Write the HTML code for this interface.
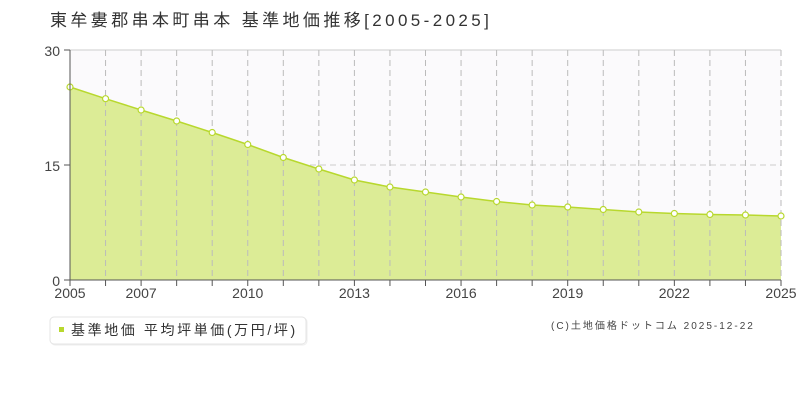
<!DOCTYPE html>
<html><head><meta charset="utf-8"><style>
body{margin:0;background:#fff;width:800px;height:400px;overflow:hidden;font-family:"Liberation Sans","Noto Sans CJK JP",sans-serif;}
</style></head><body>
<svg width="800" height="400" xmlns="http://www.w3.org/2000/svg" font-family="Liberation Sans, Noto Sans CJK JP, sans-serif">
<text x="50" y="26" font-size="17" fill="#333" letter-spacing="3.4">東牟婁郡串本町串本 基準地価推移[2005-2025]</text>
<rect x="70" y="50" width="711" height="230" fill="#fbfafc"/>
<line x1="70" y1="50" x2="781" y2="50" stroke="#ddd" stroke-width="1.5"/>
<line x1="70" y1="165" x2="781" y2="165" stroke="#ccc" stroke-dasharray="6,4"/>
<polygon fill="#dcec96" points="70,280 70,87 105.55,98.7 141.1,110 176.65,121 212.2,132.5 247.75,144.5 283.3,157.5 318.85,169 354.4,180 389.95,187 425.5,192 461.05,197 496.6,201.5 532.15,205 567.7,207 603.25,209.5 638.8,212 674.35,213.5 709.9,214.5 745.45,215 781,216 781,280"/>
<g stroke="#bbb" stroke-dasharray="6,4">
<line x1="105.55" y1="50" x2="105.55" y2="280"/><line x1="141.1" y1="50" x2="141.1" y2="280"/><line x1="176.65" y1="50" x2="176.65" y2="280"/><line x1="212.2" y1="50" x2="212.2" y2="280"/><line x1="247.75" y1="50" x2="247.75" y2="280"/><line x1="283.3" y1="50" x2="283.3" y2="280"/><line x1="318.85" y1="50" x2="318.85" y2="280"/><line x1="354.4" y1="50" x2="354.4" y2="280"/><line x1="389.95" y1="50" x2="389.95" y2="280"/><line x1="425.5" y1="50" x2="425.5" y2="280"/><line x1="461.05" y1="50" x2="461.05" y2="280"/><line x1="496.6" y1="50" x2="496.6" y2="280"/><line x1="532.15" y1="50" x2="532.15" y2="280"/><line x1="567.7" y1="50" x2="567.7" y2="280"/><line x1="603.25" y1="50" x2="603.25" y2="280"/><line x1="638.8" y1="50" x2="638.8" y2="280"/><line x1="674.35" y1="50" x2="674.35" y2="280"/><line x1="709.9" y1="50" x2="709.9" y2="280"/><line x1="745.45" y1="50" x2="745.45" y2="280"/><line x1="781" y1="50" x2="781" y2="280"/>
</g>
<polyline fill="none" stroke="#b8d82e" stroke-width="1.5" points="70,87 105.55,98.7 141.1,110 176.65,121 212.2,132.5 247.75,144.5 283.3,157.5 318.85,169 354.4,180 389.95,187 425.5,192 461.05,197 496.6,201.5 532.15,205 567.7,207 603.25,209.5 638.8,212 674.35,213.5 709.9,214.5 745.45,215 781,216"/>
<g fill="#fff" stroke="#b8d82e" stroke-width="1.2">
<circle cx="70" cy="87" r="3"/><circle cx="105.55" cy="98.7" r="3"/><circle cx="141.1" cy="110" r="3"/><circle cx="176.65" cy="121" r="3"/><circle cx="212.2" cy="132.5" r="3"/><circle cx="247.75" cy="144.5" r="3"/><circle cx="283.3" cy="157.5" r="3"/><circle cx="318.85" cy="169" r="3"/><circle cx="354.4" cy="180" r="3"/><circle cx="389.95" cy="187" r="3"/><circle cx="425.5" cy="192" r="3"/><circle cx="461.05" cy="197" r="3"/><circle cx="496.6" cy="201.5" r="3"/><circle cx="532.15" cy="205" r="3"/><circle cx="567.7" cy="207" r="3"/><circle cx="603.25" cy="209.5" r="3"/><circle cx="638.8" cy="212" r="3"/><circle cx="674.35" cy="213.5" r="3"/><circle cx="709.9" cy="214.5" r="3"/><circle cx="745.45" cy="215" r="3"/><circle cx="781" cy="216" r="3"/>
</g>
<g stroke="#555" stroke-width="1">
<line x1="70" y1="50" x2="70" y2="280"/><line x1="70" y1="280" x2="781" y2="280"/>
<line x1="64" y1="50" x2="70" y2="50"/><line x1="64" y1="165" x2="70" y2="165"/><line x1="64" y1="280" x2="70" y2="280"/>
<line x1="70" y1="280" x2="70" y2="286"/><line x1="105.55" y1="280" x2="105.55" y2="286"/><line x1="141.1" y1="280" x2="141.1" y2="286"/><line x1="176.65" y1="280" x2="176.65" y2="286"/><line x1="212.2" y1="280" x2="212.2" y2="286"/><line x1="247.75" y1="280" x2="247.75" y2="286"/><line x1="283.3" y1="280" x2="283.3" y2="286"/><line x1="318.85" y1="280" x2="318.85" y2="286"/><line x1="354.4" y1="280" x2="354.4" y2="286"/><line x1="389.95" y1="280" x2="389.95" y2="286"/><line x1="425.5" y1="280" x2="425.5" y2="286"/><line x1="461.05" y1="280" x2="461.05" y2="286"/><line x1="496.6" y1="280" x2="496.6" y2="286"/><line x1="532.15" y1="280" x2="532.15" y2="286"/><line x1="567.7" y1="280" x2="567.7" y2="286"/><line x1="603.25" y1="280" x2="603.25" y2="286"/><line x1="638.8" y1="280" x2="638.8" y2="286"/><line x1="674.35" y1="280" x2="674.35" y2="286"/><line x1="709.9" y1="280" x2="709.9" y2="286"/><line x1="745.45" y1="280" x2="745.45" y2="286"/><line x1="781" y1="280" x2="781" y2="286"/>
</g>
<g font-size="14" fill="#444" text-anchor="end">
<text x="60" y="56">30</text><text x="60" y="171">15</text><text x="60" y="286">0</text>
</g>
<g font-size="14" fill="#444" text-anchor="middle">
<text x="70" y="298">2005</text><text x="141.1" y="298">2007</text><text x="247.75" y="298">2010</text><text x="354.4" y="298">2013</text><text x="461.05" y="298">2016</text><text x="567.7" y="298">2019</text><text x="674.35" y="298">2022</text><text x="781" y="298">2025</text>
</g>
<rect x="51" y="318" width="256" height="27" rx="4" fill="#fff" stroke="#eee"/>
<rect x="50" y="317" width="256" height="27" rx="4" fill="#fff" stroke="#e4e4e4"/>
<rect x="59" y="327" width="5" height="5" fill="#b8d82e"/>
<text x="71" y="335" font-size="14" fill="#333" letter-spacing="2.6">基準地価 平均坪単価(万円/坪)</text>
<text x="551" y="329" font-size="10" fill="#444" letter-spacing="2">(C)土地価格ドットコム 2025-12-22</text>
</svg>
</body></html>
